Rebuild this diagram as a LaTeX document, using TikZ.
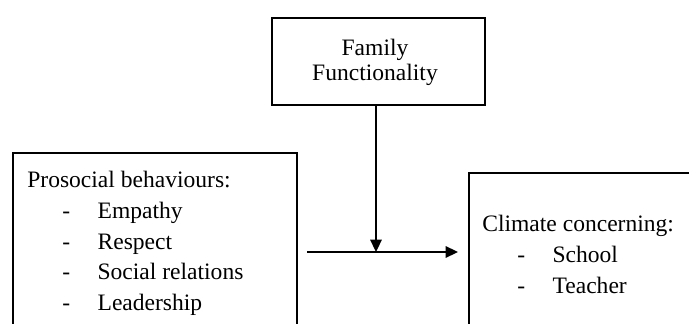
\documentclass[tikz,border=0pt]{standalone}
\usepackage{fontspec}
\setmainfont{Liberation Serif}
\usetikzlibrary{positioning, arrows.meta}
\newcommand{\dashitem}[1]{\makebox[40pt][l]{\hspace*{20pt}-}#1}

\begin{document}
\begin{tikzpicture}[x=0.02cm, y=-0.02cm,
  framebox/.style={rectangle, draw=black, line width=1pt,
                   anchor=north west, inner sep=0pt},
  boxtext/.style={anchor=north west, align=left, inner sep=0pt,
                  font=\fontsize{13.4}{17.5}\selectfont},
  arrowstyle/.style={-{Triangle[length=7pt, width=6.5pt]}, line width=1pt}
]
\useasboundingbox (0,0) rectangle (689,324);
\clip (0,0) rectangle (689,324);

% boxes
\node[framebox, minimum width=4.26cm, minimum height=1.74cm] (family) at (271,17) {};
\node[framebox, minimum width=5.68cm, minimum height=5cm] (prosocial) at (12,152) {};
\node[framebox, minimum width=5cm, minimum height=5cm] (climate) at (468,172) {};

% texts
\node[align=center, inner sep=0pt, font=\fontsize{13.4}{14.2}\selectfont]
  (familytext) at (375,62) {Family\\Functionality};
\node[boxtext] (prosocialtext) at (27,171)
  {Prosocial behaviours:\\
   \dashitem{Empathy}\\
   \dashitem{Respect}\\
   \dashitem{Social relations}\\
   \dashitem{Leadership}};
\node[boxtext] (climatetext) at (482,215)
  {Climate concerning:\\
   \dashitem{School}\\
   \dashitem{Teacher}};

% arrows
\coordinate (start) at (307,252);
\coordinate (stop) at (458,252);
\coordinate (join) at (376,252);
\draw[arrowstyle] (start) -- (stop);
\draw[arrowstyle] (family.south -| join) -- (join);
\end{tikzpicture}
\end{document}
